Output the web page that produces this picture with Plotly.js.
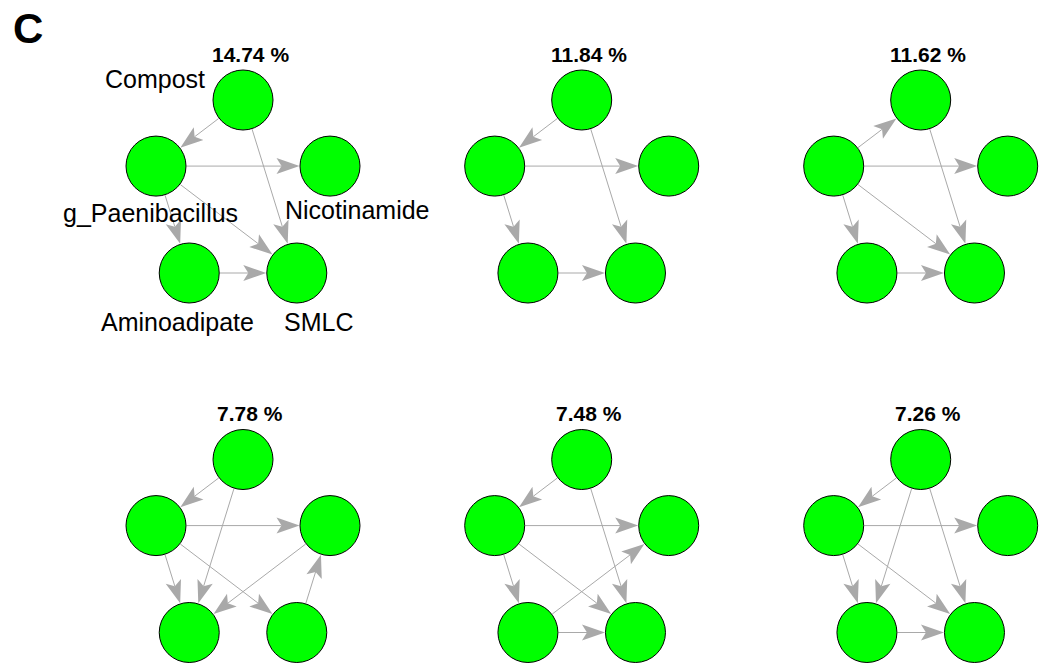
<!DOCTYPE html>
<html><head><meta charset="utf-8">
<script src="https://cdn.plot.ly/plotly-3.0.1.min.js"></script>
<style>html,body{margin:0;padding:0;background:#fff}#chart{width:1045px;height:665px}</style>
</head><body><div id="chart"></div>
<script>
// ---- data ----
const nodeNames = ['Compost', 'g_Paenibacillus', 'Nicotinamide', 'Aminoadipate', 'SMLC'];
// igraph-normalised circle layout
const nodeX = [0, -1, 1, -0.618, 0.618];
const nodeY = [1, 0.236, 0.236, -1, -1];
const panelTitles = ['14.74 %', '11.84 %', '11.62 %', '7.78 %', '7.48 %', '7.26 %'];
// edges: [source, target] (indices into nodeNames)
const edges1 = [[0,1],[1,2],[0,4],[1,3],[1,4],[3,4]];
const edges2 = [[0,1],[1,2],[0,4],[1,3],[3,4]];
const edges3 = [[1,0],[1,2],[0,4],[1,3],[1,4],[3,4]];
const edges4 = [[0,1],[1,2],[0,3],[1,3],[1,4],[2,3],[4,2]];
const edges5 = [[0,1],[1,2],[0,4],[1,3],[1,4],[3,2],[3,4]];
const edges6 = [[0,1],[1,2],[0,3],[0,4],[1,3],[1,4],[3,4]];
const panelEdges = [edges1, edges2, edges3, edges4, edges5, edges6];

// ---- layout / style ----
const W = 1045, H = 665;
const PXX = 87, PXY = 86.5;           // pixels per layout unit
const colCenters = [243, 581.7, 920.7];
const rowCenters = [186.5, 546];
const boxW = 240, boxH = 232;
const R = 30.5;                        // node radius incl. stroke
const headL = 23, headW = 16, notch = 5;
const edgeColor = '#A9A9A9';
const labelFont = {family: 'Liberation Sans, Arial, sans-serif', size: 25, color: '#000'};
const labelOffsets = [[-88, -21], [-6, 47], [27.5, 44], [-12, 49], [22, 49]];

const traces = [], shapes = [], annotations = [];
const layout = {
  width: W, height: H, margin: {l: 0, r: 0, t: 0, b: 0},
  paper_bgcolor: '#fff', plot_bgcolor: '#fff', showlegend: false,
  shapes: shapes, annotations: annotations
};

panelEdges.forEach((edges, i) => {
  const col = i % 3, row = Math.floor(i / 3);
  const cx = colCenters[col], cy = rowCenters[row];
  const sfx = i === 0 ? '' : String(i + 1);
  const xr = 'x' + sfx, yr = 'y' + sfx;
  layout['xaxis' + sfx] = {
    domain: [(cx - boxW / 2) / W, (cx + boxW / 2) / W],
    range: [-boxW / 2 / PXX, boxW / 2 / PXX], visible: false, fixedrange: true
  };
  layout['yaxis' + sfx] = {
    domain: [1 - (cy + boxH / 2) / H, 1 - (cy - boxH / 2) / H],
    range: [-boxH / 2 / PXY, boxH / 2 / PXY], visible: false, fixedrange: true
  };
  if (i > 0) { layout['xaxis' + sfx].anchor = yr; layout['yaxis' + sfx].anchor = xr; }

  // edges
  edges.forEach(([s, t]) => {
    const sx = nodeX[s] * PXX, sy = nodeY[s] * PXY;
    const tx = nodeX[t] * PXX, ty = nodeY[t] * PXY;
    const len = Math.hypot(tx - sx, ty - sy);
    const dx = (tx - sx) / len, dy = (ty - sy) / len;
    const nx = -dy, ny = dx;
    const start = [sx + dx * R, sy + dy * R];
    const tip = [tx - dx * R, ty - dy * R];
    const base = [tip[0] - dx * headL, tip[1] - dy * headL];
    const nb = [tip[0] - dx * (headL - notch), tip[1] - dy * (headL - notch)];
    const b1 = [base[0] + nx * headW / 2, base[1] + ny * headW / 2];
    const b2 = [base[0] - nx * headW / 2, base[1] - ny * headW / 2];
    const u = p => [p[0] / PXX, p[1] / PXY];
    const [x0, y0] = u(start), [x1, y1] = u(nb);
    shapes.push({type: 'line', xref: xr, yref: yr, x0: x0, y0: y0, x1: x1, y1: y1,
      line: {color: edgeColor, width: 1}, layer: 'below'});
    const pts = [tip, b1, nb, b2].map(u);
    const path = 'M' + pts.map(p => p[0].toFixed(5) + ',' + p[1].toFixed(5)).join(' L') + ' Z';
    shapes.push({type: 'path', xref: xr, yref: yr, path: path,
      fillcolor: edgeColor, line: {width: 0}, layer: 'below'});
  });

  // nodes
  traces.push({
    type: 'scatter', mode: 'markers', x: nodeX, y: nodeY, xaxis: xr, yaxis: yr,
    text: nodeNames, hoverinfo: 'text', cliponaxis: false,
    marker: {size: 60, color: '#00FF00', line: {color: '#000', width: 1}}
  });

  // panel title
  annotations.push({
    xref: xr, yref: yr, x: nodeX[0], y: nodeY[0], xshift: 7, yshift: 46,
    text: '<b>' + panelTitles[i] + '</b>', showarrow: false,
    font: {family: 'Liberation Sans, Arial, sans-serif', size: 21, color: '#000'},
    xanchor: 'center', yanchor: 'middle'
  });

  // node labels (first panel only)
  if (i === 0) {
    nodeNames.forEach((nm, k) => {
      annotations.push({
        xref: xr, yref: yr, x: nodeX[k], y: nodeY[k],
        xshift: labelOffsets[k][0], yshift: -labelOffsets[k][1],
        text: nm, showarrow: false, font: labelFont,
        xanchor: 'center', yanchor: 'middle'
      });
    });
  }
});

// panel letter
annotations.push({
  xref: 'paper', yref: 'paper', x: 28 / W, y: 1 - 28 / H,
  text: '<b>C</b>', showarrow: false, xanchor: 'center', yanchor: 'middle',
  font: {family: 'Liberation Sans, Arial, sans-serif', size: 42, color: '#000'}
});

Plotly.newPlot('chart', traces, layout, {staticPlot: true, displayModeBar: false});
</script>
</body></html>
